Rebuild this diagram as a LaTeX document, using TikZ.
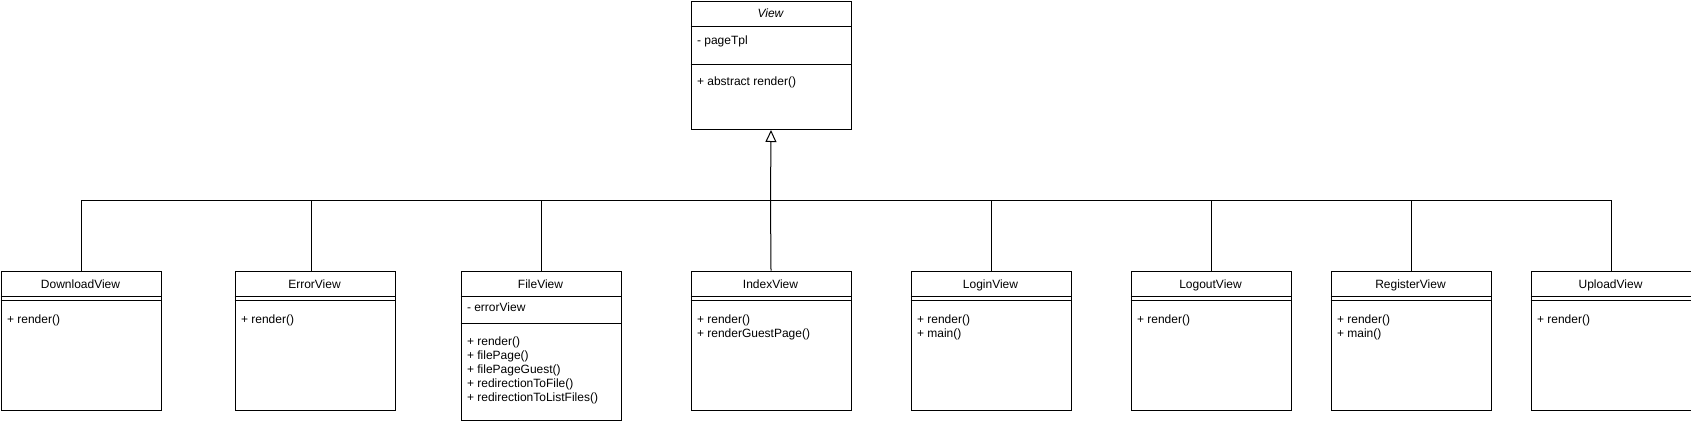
\documentclass[tikz,border=0pt]{standalone}
\usepackage{fontspec}
\setmainfont{Liberation Sans}
\usepackage{tikz}
\usetikzlibrary{arrows.meta}

\begin{document}
\begin{tikzpicture}[x=1pt, y=-1pt, line width=1pt,
  classbox/.style={draw, anchor=north west, minimum width=160pt, inner sep=0pt},
  ctitle/.style={anchor=base, inner sep=0pt, font=\fontsize{12}{14}\selectfont},
  member/.style={anchor=base west, inner sep=0pt, font=\fontsize{12}{14}\selectfont}]

\useasboundingbox (0,0) rectangle (1691,424);

% parent class
\node (view) at (690.5,1) [classbox, minimum height=128pt]{};
\node (viewT) at (770.5,17.5) [ctitle]{\itshape View};
\draw ([yshift=-25pt]view.north west) -- ([yshift=-25pt]view.north east);
\node (viewA) at (696.5,44.5) [member]{- pageTpl};
\draw ([yshift=-63.5pt]view.north west) -- ([yshift=-63.5pt]view.north east);
\node (viewM) at (696.5,85.5) [member]{+ abstract render()};

% child classes
\node (dl) at (0.5,270.5) [classbox, minimum height=139.5pt]{};
\node (dlT) at (80.5,288) [ctitle]{DownloadView};
\node (dlM) at (6.5,323) [member]{+ render()};

\node (err) at (234.5,270.5) [classbox, minimum height=139.5pt]{};
\node (errT) at (314.5,288) [ctitle]{ErrorView};
\node (errM) at (240.5,323) [member]{+ render()};

\node (file) at (460.5,270.5) [classbox, minimum height=149.5pt]{};
\node (fileT) at (540.5,288) [ctitle]{FileView};
\node (fileA) at (466.5,311) [member]{- errorView};
\draw ([yshift=-52.5pt]file.north west) -- ([yshift=-52.5pt]file.north east);
\node (fileM1) at (466.5,345.5) [member]{+ render()};
\node (fileM2) at (466.5,359.5) [member]{+ filePage()};
\node (fileM3) at (466.5,373.5) [member]{+ filePageGuest()};
\node (fileM4) at (466.5,387.5) [member]{+ redirectionToFile()};
\node (fileM5) at (466.5,401.5) [member]{+ redirectionToListFiles()};

\node (idx) at (690.5,270.5) [classbox, minimum height=139.5pt]{};
\node (idxT) at (770.5,288) [ctitle]{IndexView};
\node (idxM1) at (696.5,323) [member]{+ render()};
\node (idxM2) at (696.5,337) [member]{+ renderGuestPage()};

\node (login) at (910.5,270.5) [classbox, minimum height=139.5pt]{};
\node (loginT) at (990.5,288) [ctitle]{LoginView};
\node (loginM1) at (916.5,323) [member]{+ render()};
\node (loginM2) at (916.5,337) [member]{+ main()};

\node (logout) at (1130.5,270.5) [classbox, minimum height=139.5pt]{};
\node (logoutT) at (1210.5,288) [ctitle]{LogoutView};
\node (logoutM) at (1136.5,323) [member]{+ render()};

\node (reg) at (1330.5,270.5) [classbox, minimum height=139.5pt]{};
\node (regT) at (1410.5,288) [ctitle]{RegisterView};
\node (regM1) at (1336.5,323) [member]{+ render()};
\node (regM2) at (1336.5,337) [member]{+ main()};

\node (up) at (1530.5,270.5) [classbox, minimum height=139.5pt]{};
\node (upT) at (1610.5,288) [ctitle]{UploadView};
\node (upM) at (1536.5,323) [member]{+ render()};

% double line under the titles
\foreach \c in {dl,err,idx,login,logout,reg,up}{
  \draw ([yshift=-26pt]\c.north west) -- ([yshift=-26pt]\c.north east);
  \draw ([yshift=-30pt]\c.north west) -- ([yshift=-30pt]\c.north east);
}
\draw ([yshift=-26pt]file.north west) -- ([yshift=-26pt]file.north east);

% generalization
\coordinate (bus) at (770.5,200.5);
\draw (dl.north) |- (bus);
\draw ([xshift=-3.5pt]err.north) |- (bus);
\draw (file.north) |- (bus);
\draw (login.north) |- (bus);
\draw (logout.north) |- (bus);
\draw (reg.north) |- (bus);
\draw (up.north) |- (bus);
\draw (idx.north) -- (bus);
\draw[-{Triangle[open,length=12pt,width=11pt]}] (bus) -- (view.south);

\end{tikzpicture}
\end{document}
